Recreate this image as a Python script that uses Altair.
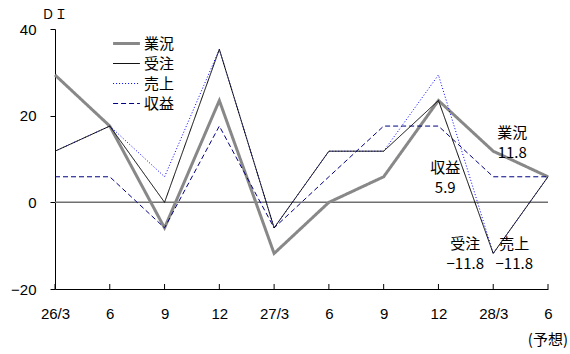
import json
import altair as alt
import pandas as pd

# Survey periods (year/month, then months within the year); last one is a forecast
periods = ["26/3", "6", "9", "12", "27/3", "6", "9", "12", "28/3", "6"]
series_names = ["業況", "受注", "売上", "収益"]

# DI values by series
gyokyo = [29.4, 17.6, -5.9, 23.5, -11.8, 0.0, 5.9, 23.5, 11.8, 5.9]
juchu = [11.8, 17.6, 0.0, 35.3, -5.9, 11.8, 11.8, 23.5, -11.8, 5.9]
uriage = [11.8, 17.6, 5.9, 35.3, -5.9, 11.8, 11.8, 29.4, -11.8, 5.9]
shueki = [5.9, 5.9, -5.9, 17.6, -5.9, 5.9, 17.6, 17.6, 5.9, 5.9]

series_values = dict(zip(series_names, [gyokyo, juchu, uriage, shueki]))

rows = []
for name, vals in series_values.items():
    for i, v in enumerate(vals):
        rows.append({"idx": i, "period": periods[i], "series": name, "value": v})
df = pd.DataFrame(rows)

JP_FONT = "Noto Sans CJK JP"
NUM_FONT = "Liberation Sans"

x_scale = alt.Scale(domain=[0, len(periods) - 1], nice=False, zero=False)
y_scale = alt.Scale(domain=[-20, 40], nice=False, zero=False)

color_scale = alt.Scale(domain=series_names,
                        range=["#888888", "#000000", "#0000ff", "#000080"])
dash_scale = alt.Scale(domain=series_names,
                       range=[[1, 0], [1, 0], [1, 2], [5, 3]])
width_scale = alt.Scale(type="ordinal", domain=series_names, range=[3, 1, 1, 1])

x_axis = alt.Axis(
    values=list(range(len(periods))),
    labelExpr=f"{json.dumps(periods)}[datum.value]",
    ticks=False, grid=False, title=None,
    domainColor="black", domainWidth=1,
    labelFont=NUM_FONT, labelFontSize=15, labelColor="black",
    labelPadding=17, labelOverlap=False, labelFlush=False,
)
y_axis = alt.Axis(
    values=[-20, 0, 20, 40], grid=False,
    title="ＤＩ", titleAngle=0, titleAlign="left", titleBaseline="top",
    titleX=-14, titleY=-21, titleFont=JP_FONT, titleFontSize=13,
    titleFontWeight="normal", titleColor="black",
    domainColor="black", tickColor="black", tickSize=5,
    labelFont=NUM_FONT, labelFontSize=15, labelColor="black", labelPadding=14,
)

base = alt.Chart(df).mark_line().encode(
    x=alt.X("idx:Q", scale=x_scale, axis=x_axis),
    y=alt.Y("value:Q", scale=y_scale, axis=y_axis),
    color=alt.Color("series:N", scale=color_scale, title=None),
    strokeDash=alt.StrokeDash("series:N", scale=dash_scale, title=None),
    strokeWidth=alt.StrokeWidth("series:N", scale=width_scale, title=None),
)

# draw the thick grey line first and the black line last
draw_order = ["業況", "収益", "売上", "受注"]
line_layers = [
    base.transform_filter(alt.datum.series == name) for name in draw_order
]

zero_rule = alt.Chart(pd.DataFrame({"v": [0]})).mark_rule(
    color="#707070", strokeWidth=1.5
).encode(y=alt.Y("v:Q", scale=y_scale))

# inward tick marks on the period axis
tick_df = pd.DataFrame({"idx": list(range(len(periods)))})
x_ticks = alt.Chart(tick_df).mark_rule(color="black", strokeWidth=1).encode(
    x=alt.X("idx:Q", scale=x_scale),
    y=alt.value(260), y2=alt.value(255),
)

# end-of-series annotations at 28/3
ann_idx = periods.index("28/3")
ann_offsets = {"業況": (19, -18), "収益": (-48, -9), "受注": (-28, -9), "売上": (21, -9)}
ann_layers = []
for name, (dx, dy) in ann_offsets.items():
    v = series_values[name][ann_idx]
    label = f"{name}\n{v:.1f}".replace("-", "\u2212")
    ann_df = pd.DataFrame({"idx": [ann_idx], "value": [v], "label": [label]})
    ann_layers.append(
        alt.Chart(ann_df).mark_text(
            font=JP_FONT, fontSize=15, color="black", lineBreak="\n",
            lineHeight=20, align="center", baseline="middle", dx=dx, dy=dy,
        ).encode(
            x=alt.X("idx:Q", scale=x_scale),
            y=alt.Y("value:Q", scale=y_scale),
            text="label:N",
        )
    )

forecast = alt.Chart(pd.DataFrame({"idx": [len(periods) - 1], "value": [-20],
                                   "label": ["(予想)"]})).mark_text(
    font=JP_FONT, fontSize=15, color="black", align="right",
    baseline="middle", dx=20, dy=51,
).encode(
    x=alt.X("idx:Q", scale=x_scale),
    y=alt.Y("value:Q", scale=y_scale),
    text="label:N",
)

# legend keys: a wide horizontal stroke on a small symbol footprint
chart = alt.layer(zero_rule, *line_layers, x_ticks, *ann_layers, forecast).properties(
    width=493, height=260,
    autosize=alt.AutoSizeParams(type="none"),
    padding={"left": 55, "top": 29, "right": 22, "bottom": 65},
).configure_view(stroke=None).configure_legend(
    orient="none", legendX=63, legendY=6,
    symbolType="M-2,0H2", symbolSize=180, symbolStrokeWidth=1,
    labelFont=JP_FONT, labelFontSize=15, labelColor="black",
    rowPadding=4, labelOffset=9,
)

chart.save("out.html", embed_options={"renderer": "svg", "actions": False})
